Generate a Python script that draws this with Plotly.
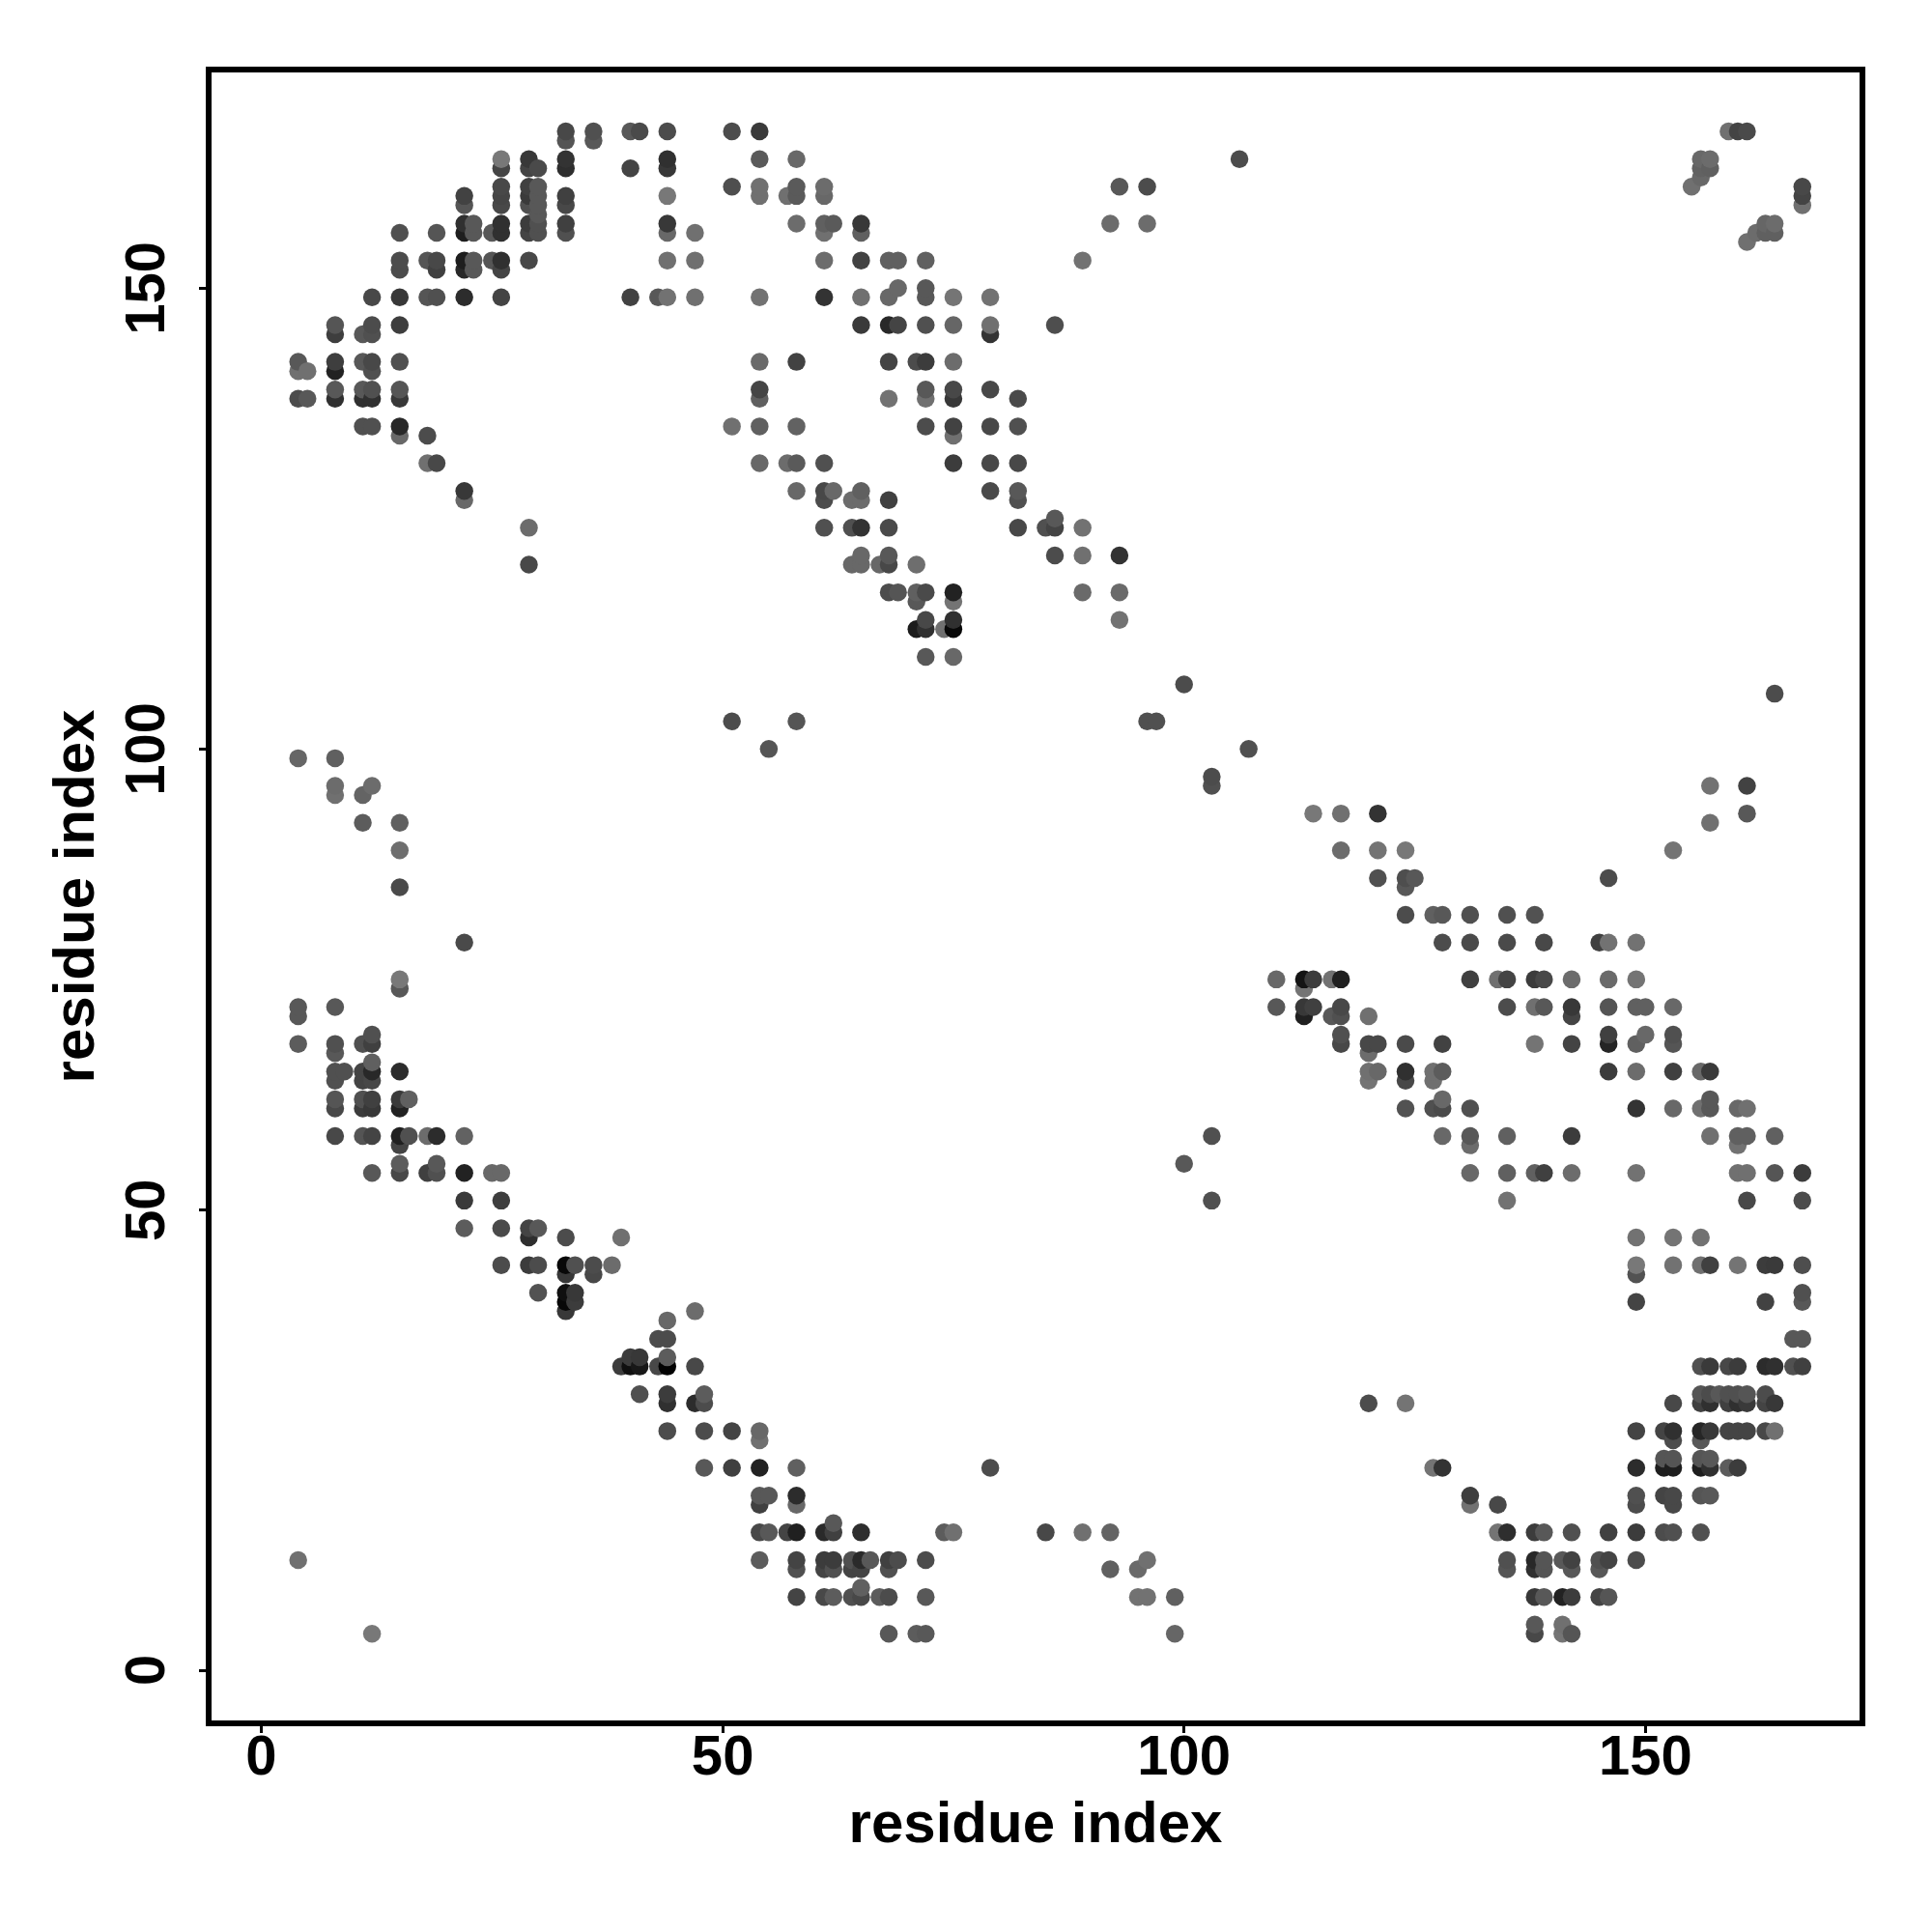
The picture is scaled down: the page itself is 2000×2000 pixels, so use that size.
import plotly.graph_objects as go

row_y = [167,166,164,163,162,161,160,159,158,157,156,155,153,152,150,149,146,145,142,141,139,138,135,134,131,128,127,125,124,121,120,117,116,114,113,110,107,106,103,100,99,97,96,95,93,92,89,86,85,82,79,75,74,72,71,69,68,67,66,65,64,62,61,58,57,55,54,51,48,47,44,43,41,40,39,38,36,34,33,30,29,26,25,23,22,19,18,16,15,12,11,9,8,5,4]

row_x = [
[33,36,40,41,44,51,54,159,160,161],
[33,36],
[26,29,33,44,54,58,106,156,157],
[26,29,30,33,40,44,156,157],
[156],
[26,29,30,51,54,58,61,93,96,155,167],
[22,26,29,30,33,44,54,57,58,61,167],
[22,26,29,30,33,167],
[30],
[22,23,26,29,30,33,44,58,61,62,65,92,96,163,164],
[15,19,22,23,25,26,29,30,33,44,47,61,65,162,163,164],
[161],
[15,18,19,22,23,25,26,29,44,47,61,65,68,69,72,89],
[15,19,22,23,26],
[69,72],
[12,15,18,19,22,26,40,43,44,47,54,61,65,68,72,75,79],
[8,12,15,65,68,69,72,75,79,86],
[8,11,12,79],
[4,8,11,12,15,54,58,68,71,72,75],
[4,5,8,12],
[8,11,12,15,54,72,75,79],
[4,5,8,11,12,15,54,68,72,75,82],
[11,12,15,51,54,58,72,75,79,82],
[15,18,75],
[18,19,54,57,58,61,75,79,82],
[22,58,61,62,65,79,82],
[22,61,64,65,68,82],
[86],
[29,61,64,65,68,82,85,86,89],
[65,68,86,89,93],
[29,64,65,67,68,71],
[68,69,71,72,75,89,93],
[71,75],
[72,75,93],
[71,72,74,75],
[72,75],
[100],
[164],
[51,58,96,97],
[55,107],
[4,8],
[103],
[8,12,103,157,161],
[8,11],
[114,117,121,161],
[11,15,157],
[15,117,121,124,153],
[121,124,125,146],
[15,124],
[124,127,128,131,135,138],
[22,128,131,135,139,145,146,149],
[15,110,113,114,116,117,131,134,135,138,139,142,146,149],
[15,113],
[4,8,110,113,114,117,135,138,139,142,146,149,150,153],
[4,113,116,117,120,142],
[12,117,146,150,153],
[4,8,11,12,117,120,121,124,128,138,142,146,149,153],
[8,120],
[12],
[8,9,11,12,15,120,121,124,127,128,146,149,153,156,157],
[8,11,12,120,124,127],
[8,11,12,15,16,128,157],
[8,11,12,15,124,127,128,131,149,153,156,157,160,161],
[8,11,12,15,16,18,19,22,103,128,131,135,142,157,160,161,164],
[15,131,160],
[15,19,100],
[12,15,18,19,22,25,26,131,135,138,139,142,149,160,161,164,167],
[22,26,103,135,161,167],
[22,26,29,30],
[29,33,39,149,153,156],
[26,29,30,33,34,36,38,149,153,156,157,160,163,164,167],
[33,36,149],
[30,33,34,167],
[33,34,149,163,167],
[33,47],
[44],
[43,44,166,167],
[40,41,44],
[39,40,41,43,44,47,156,157,159,160,163,164,166,167],
[41,44,48,156,157,158,159,160,161,163],
[44,47,48,120,124,153,156,157,159,160,161,163,164],
[44,48,51,54,149,152,153,156,157,159,160,161,163,164],
[54,153,156],
[152,153,156,157],
[48,51,54,58,79,127,128,149,152,153,156,157,159,160],
[54,55,58,131,149,152,153,156,157],
[54,58,131,134,149,153],
[62],
[54,55,57,58,61,62,65,74,75,85,89,92,134,135,138,139,142,146,149,152,153,156],
[4,54,58,61,62,64,65,66,68,69,72,96,135,138,139,141,142,145,146,149],
[58,61,62,64,65,68,92,95,135,138,139,142,145],
[65],
[58,61,62,64,65,67,68,72,95,96,99,138,139,141,142,145,146],
[138,141],
[12,68,71,72,99,138,141,142],
]

row_shade = [
[0x48,0x50,0x58,0x4a,0x4c,0x4c,0x3a,0x70,0x44,0x4a],
[0x55,0x58],
[0x78,0x38,0x33,0x30,0x5a,0x68,0x4c,0x68,0x6c],
[0x45,0x44,0x4a,0x2e,0x44,0x38,0x62,0x60],
[0x68],
[0x48,0x40,0x58,0x4e,0x70,0x5a,0x6c,0x58,0x4c,0x70,0x48],
[0x42,0x45,0x3a,0x58,0x40,0x78,0x70,0x70,0x5a,0x68,0x44],
[0x55,0x48,0x50,0x58,0x48,0x70],
[0x58],
[0x30,0x58,0x30,0x3c,0x50,0x40,0x38,0x6c,0x60,0x5a,0x38,0x6c,0x6c,0x66,0x6c],
[0x50,0x55,0x1e,0x58,0x58,0x30,0x44,0x50,0x50,0x68,0x70,0x70,0x60,0x6c,0x60,0x60],
[0x70],
[0x4c,0x55,0x48,0x1e,0x58,0x55,0x30,0x48,0x70,0x70,0x6c,0x42,0x60,0x60,0x60,0x72],
[0x4c,0x40,0x28,0x58,0x44],
[0x68,0x58],
[0x48,0x38,0x55,0x50,0x2c,0x44,0x42,0x58,0x72,0x70,0x72,0x33,0x70,0x68,0x58,0x75,0x72],
[0x55,0x4c,0x3e,0x3a,0x28,0x44,0x50,0x66,0x70,0x4e],
[0x3e,0x58,0x50,0x33],
[0x58,0x3e,0x58,0x48,0x50,0x6a,0x42,0x44,0x4c,0x3c,0x6c],
[0x70,0x70,0x22,0x50],
[0x58,0x58,0x50,0x55,0x45,0x58,0x48,0x48],
[0x4c,0x58,0x30,0x30,0x30,0x38,0x60,0x72,0x70,0x38,0x4a],
[0x50,0x50,0x28,0x70,0x60,0x62,0x4c,0x42,0x48,0x50],
[0x68,0x4c,0x70],
[0x70,0x48,0x68,0x6c,0x5a,0x50,0x3c,0x48,0x48],
[0x38,0x68,0x48,0x68,0x60,0x4a,0x58],
[0x68,0x4c,0x6c,0x6c,0x40,0x50],
[0x58],
[0x6c,0x50,0x50,0x33,0x4a,0x48,0x50,0x44,0x72],
[0x68,0x58,0x4c,0x70,0x33],
[0x48,0x68,0x68,0x68,0x48,0x6e],
[0x4c,0x55,0x60,0x4a,0x22,0x6a,0x6a],
[0x58,0x74],
[0x48,0x30,0x72],
[0x1c,0x30,0x70,0x08],
[0x58,0x68],
[0x4c],
[0x4c],
[0x4c,0x55,0x50,0x50],
[0x55,0x50],
[0x66,0x60],
[0x4c],
[0x6c,0x6c,0x50,0x72,0x42],
[0x70,0x64],
[0x78,0x70,0x33,0x58],
[0x5c,0x60,0x70],
[0x6e,0x6c,0x74,0x78,0x74],
[0x50,0x4e,0x58,0x4c],
[0x4a,0x58],
[0x4c,0x60,0x58,0x50,0x50,0x52],
[0x4a,0x4c,0x4a,0x4a,0x48,0x40,0x72,0x72],
[0x78,0x68,0x14,0x3c,0x72,0x20,0x40,0x70,0x44,0x3c,0x48,0x6c,0x6a,0x74],
[0x58,0x74],
[0x58,0x58,0x58,0x38,0x40,0x48,0x4c,0x70,0x58,0x38,0x54,0x60,0x60,0x68],
[0x58,0x20,0x58,0x50,0x70,0x44],
[0x50,0x50,0x40,0x68,0x50],
[0x5c,0x50,0x50,0x40,0x48,0x48,0x48,0x4a,0x42,0x74,0x44,0x25,0x60,0x55],
[0x58,0x6c],
[0x60],
[0x50,0x50,0x44,0x28,0x2c,0x70,0x68,0x30,0x70,0x5c,0x3c,0x6c,0x40,0x68,0x3a],
[0x50,0x44,0x48,0x74,0x48,0x70],
[0x55,0x50,0x40,0x3a,0x60,0x68,0x58],
[0x48,0x3c,0x38,0x22,0x52,0x50,0x4a,0x50,0x33,0x68,0x70,0x58,0x68,0x70],
[0x48,0x54,0x44,0x20,0x50,0x6c,0x2c,0x62,0x50,0x68,0x58,0x60,0x3c,0x70,0x60,0x60,0x60],
[0x44,0x6c,0x72],
[0x5c,0x58,0x58],
[0x58,0x48,0x40,0x50,0x22,0x68,0x68,0x68,0x60,0x60,0x40,0x6c,0x72,0x70,0x70,0x55,0x3c],
[0x3a,0x3e,0x50,0x72,0x48,0x4c],
[0x5c,0x4a,0x44,0x58],
[0x2e,0x4c,0x70,0x72,0x74,0x72],
[0x4c,0x3c,0x4c,0x08,0x50,0x4c,0x6c,0x78,0x72,0x70,0x40,0x74,0x3c,0x3a,0x4e],
[0x38,0x48,0x52],
[0x52,0x10,0x38,0x50],
[0x08,0x3c,0x44,0x42,0x58],
[0x38,0x6c],
[0x68],
[0x4c,0x4c,0x58,0x58],
[0x3c,0x38,0x5c],
[0x3c,0x10,0x18,0x48,0x02,0x48,0x50,0x3a,0x48,0x3c,0x2c,0x30,0x50,0x40],
[0x50,0x3c,0x5c,0x55,0x4c,0x58,0x50,0x50,0x55,0x4c],
[0x30,0x2c,0x4c,0x4c,0x74,0x48,0x40,0x30,0x40,0x30,0x3a,0x44,0x38],
[0x4c,0x4c,0x44,0x68,0x44,0x44,0x30,0x26,0x38,0x44,0x44,0x44,0x48,0x70],
[0x70,0x4c,0x58],
[0x55,0x55,0x55,0x58],
[0x58,0x40,0x22,0x60,0x4c,0x74,0x33,0x2c,0x1e,0x1e,0x1e,0x30,0x5c,0x3c],
[0x58,0x58,0x2c,0x3e,0x50,0x44,0x48,0x55,0x58],
[0x40,0x68,0x72,0x48,0x4c,0x48],
[0x58],
[0x48,0x58,0x44,0x20,0x2a,0x40,0x2e,0x5c,0x70,0x48,0x70,0x64,0x74,0x2e,0x3c,0x58,0x50,0x40,0x3c,0x4c,0x50,0x50],
[0x70,0x5c,0x44,0x3c,0x3c,0x50,0x2a,0x58,0x40,0x4c,0x4c,0x70,0x50,0x28,0x55,0x58,0x42,0x50,0x44,0x4c],
[0x50,0x44,0x50,0x44,0x44,0x50,0x60,0x6a,0x55,0x30,0x55,0x58,0x58],
[0x60],
[0x44,0x48,0x5c,0x50,0x48,0x5c,0x4c,0x58,0x72,0x72,0x60,0x38,0x58,0x22,0x3c,0x44,0x55],
[0x58,0x70],
[0x78,0x58,0x5c,0x58,0x66,0x48,0x74,0x55],
]

x_tick_values = [0, 50, 100, 150]
y_tick_values = [0, 50, 100, 150]
axis_title = "residue index"

marks = sorted(
    (x, y, s)
    for y, xs, ss in zip(row_y, row_x, row_shade, strict=True)
    for x, s in zip(xs, ss, strict=True)
)

fig = go.Figure(go.Scatter(
    x=[m[0] for m in marks],
    y=[m[1] for m in marks],
    mode="markers",
    marker=dict(size=18.5, color=[f"rgb({m[2]},{m[2]},{m[2]})" for m in marks], line=dict(width=0)),
    hoverinfo="skip",
))

FONT = "Liberation Sans"
tick_font = dict(family=FONT, size=58, color="black", weight=700)
title_font = dict(family=FONT, size=60, color="black", weight=700)
axis_common = dict(
    tickmode="array",
    showgrid=False, zeroline=False,
    showline=True, mirror=True, linecolor="black", linewidth=5.5,
    ticks="outside", ticklen=7, tickwidth=3, tickcolor="black",
    tickfont=tick_font,
)
fig.update_xaxes(
    range=[-5.39, 173.2], tickvals=x_tick_values, ticktext=[str(v) for v in x_tick_values],
    ticklabelstandoff=-26,
    title=dict(text=axis_title, font=title_font, standoff=19),
    **axis_common,
)
fig.update_yaxes(
    range=[-5.4, 173.4], tickvals=y_tick_values, showticklabels=False,
    title=dict(text=axis_title, font=title_font, standoff=91),
    **axis_common,
)
for v in y_tick_values:
    fig.add_annotation(
        x=0, xref="paper", y=v, yref="y", text=str(v), textangle=-90,
        xanchor="center", yanchor="middle", xshift=-69.5, showarrow=False, font=tick_font,
    )
fig.update_layout(
    width=2000, height=2000, autosize=False,
    paper_bgcolor="white", plot_bgcolor="white", showlegend=False,
    margin=dict(l=218.5, r=75, t=75, b=219, autoexpand=False),
)
fig.write_html("out.html", config={"displayModeBar": False},
               post_script="document.body.style.margin='0';")
